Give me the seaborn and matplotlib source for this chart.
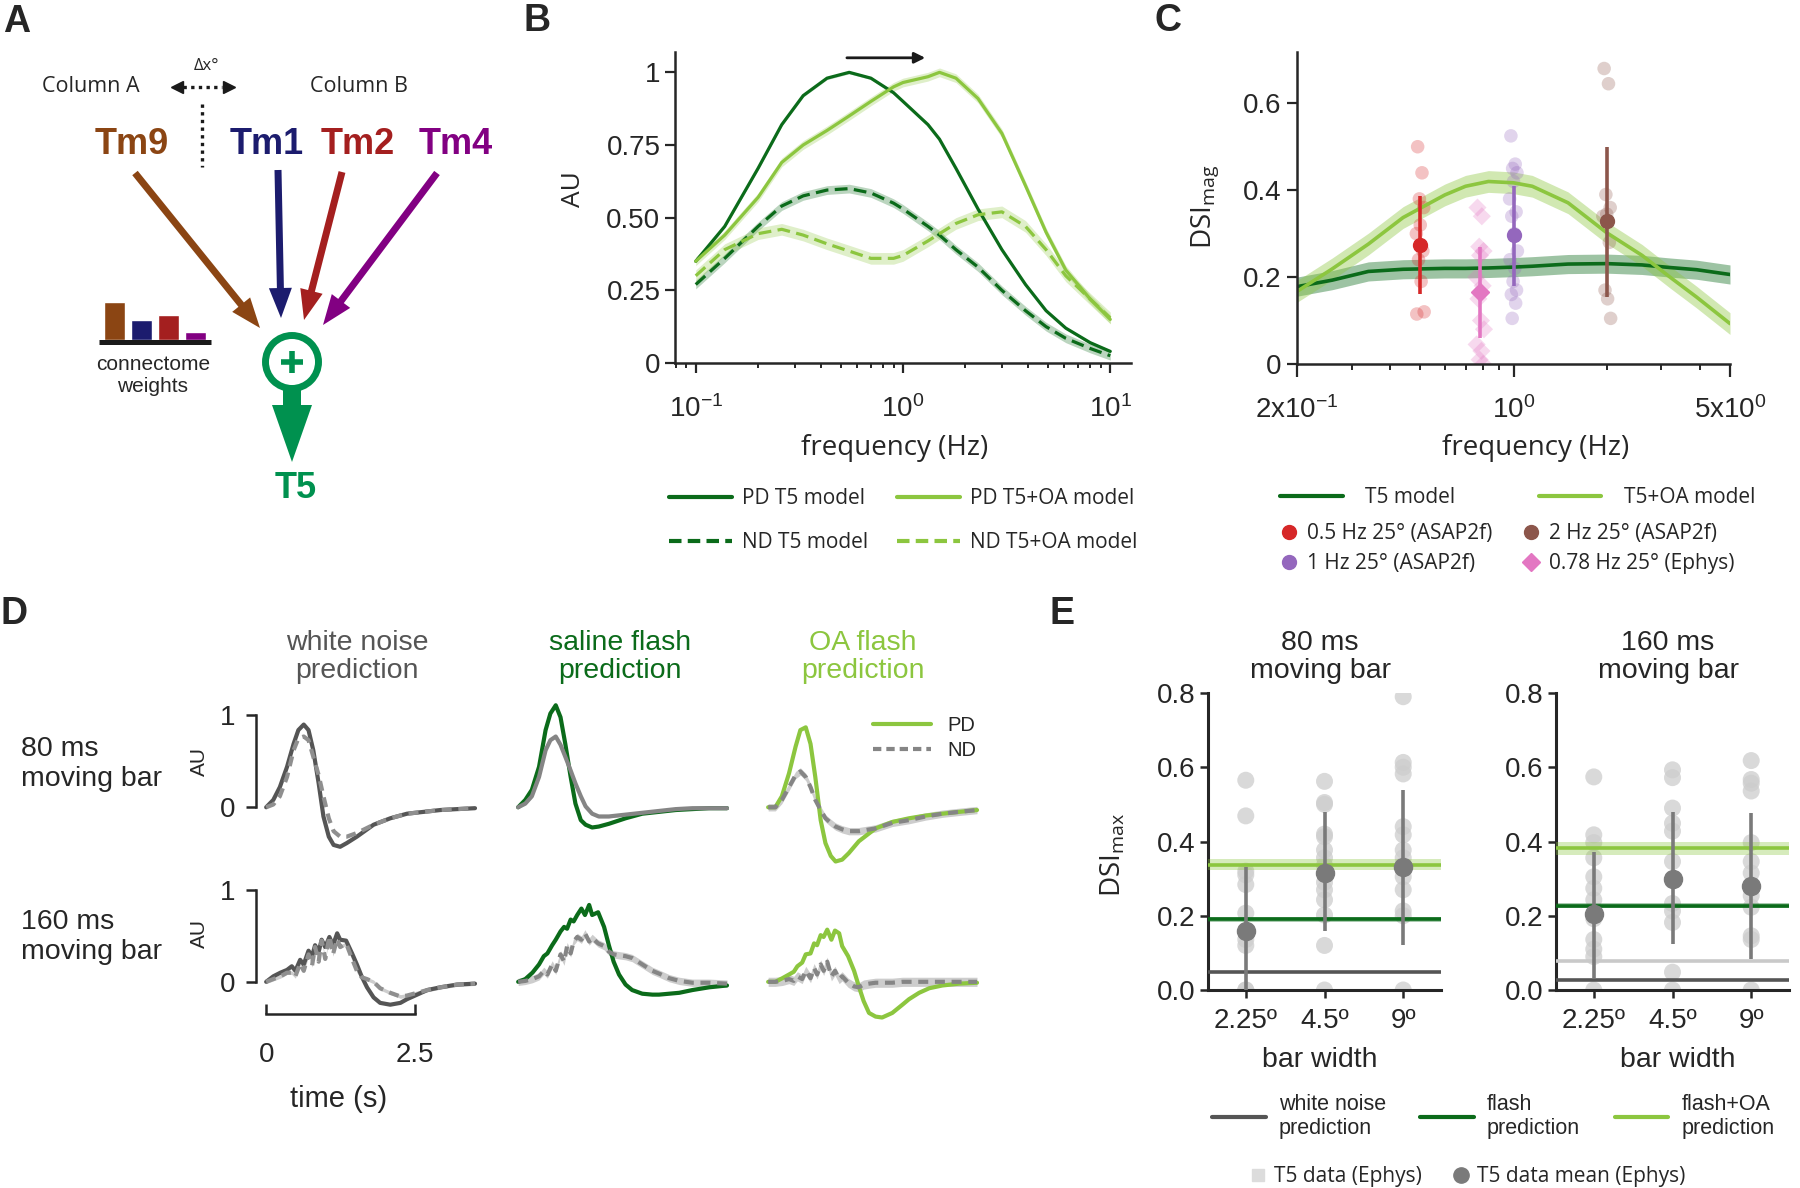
import numpy as np
import matplotlib
matplotlib.use("Agg")
import matplotlib.pyplot as plt
import seaborn as sns
from matplotlib.patches import FancyArrow, Circle
from matplotlib.lines import Line2D
from matplotlib.ticker import NullFormatter, LogLocator

sns.set_theme(style="ticks")
plt.rcParams['font.family'] = ['Liberation Sans', 'DejaVu Sans']
plt.rcParams['mathtext.fontset'] = 'custom'
plt.rcParams['mathtext.rm'] = 'Liberation Sans'
plt.rcParams['mathtext.it'] = 'Liberation Sans:italic'
plt.rcParams['axes.linewidth'] = 1.8
plt.rcParams['axes.facecolor'] = 'none'
HUM = ['Open Sans', 'DejaVu Sans']

# colours
DKG = '#0b6b1a'
LTG = '#8cc63f'
T5G = '#00914f'
WN_GRAY = '#555555'
ND_GRAY = '#858585'

# ---------------- data ----------------
# A: connectome weights
tm_names = ['Tm9', 'Tm1', 'Tm2', 'Tm4']
tm_colors = ['#8b4513', '#1c1c6e', '#a41f1f', '#820082']
conn_weights = [1.0, 0.52, 0.65, 0.22]

# B: frequency tuning of the model
freq_b = [0.1, 0.138, 0.2, 0.26, 0.33, 0.43, 0.55, 0.7, 0.9, 1.0,
          1.32, 1.5, 1.8, 2.3, 3.0, 3.9, 4.9, 6.1, 8.0, 10.0]
pd_t5 = [0.35, 0.47, 0.67, 0.82, 0.92, 0.98, 1.0, 0.98, 0.93, 0.90,
         0.82, 0.77, 0.67, 0.53, 0.39, 0.27, 0.18, 0.12, 0.07, 0.04]
pd_oa = [0.35, 0.44, 0.57, 0.69, 0.75, 0.80, 0.85, 0.90, 0.95, 0.965,
         0.985, 1.0, 0.98, 0.91, 0.79, 0.61, 0.45, 0.32, 0.22, 0.15]
nd_t5 = [0.27, 0.36, 0.47, 0.54, 0.575, 0.595, 0.60, 0.585, 0.55, 0.53,
         0.47, 0.44, 0.39, 0.33, 0.25, 0.18, 0.125, 0.085, 0.05, 0.025]
nd_oa = [0.30, 0.39, 0.445, 0.46, 0.44, 0.41, 0.385, 0.36, 0.36, 0.37,
         0.42, 0.445, 0.48, 0.51, 0.52, 0.47, 0.39, 0.30, 0.22, 0.155]
band_b = [0.005, 0.015, 0.015, 0.02]
arrow_freq = [0.52, 1.32]

# C: DSI vs frequency
c_freq = [0.2, 0.26, 0.34, 0.44, 0.6, 0.7, 0.83, 1.0, 1.15, 1.5, 2.0, 2.6, 3.2, 3.9, 5.0]
c_t5 = [0.178, 0.193, 0.213, 0.218, 0.22, 0.22, 0.221, 0.223, 0.225, 0.23,
        0.231, 0.228, 0.222, 0.217, 0.206]
c_oa = [0.167, 0.219, 0.276, 0.337, 0.389, 0.409, 0.42, 0.417, 0.409, 0.371,
        0.302, 0.25, 0.2, 0.154, 0.093]
band_c = [0.022, 0.025]
c_labels = ['0.5 Hz 25° (ASAP2f)', '1 Hz 25° (ASAP2f)', '2 Hz 25° (ASAP2f)', '0.78 Hz 25° (Ephys)']
c_stim_freq = [0.5, 1.0, 2.0, 0.78]
c_points = [
    [0.50, 0.44, 0.38, 0.36, 0.32, 0.30, 0.26, 0.24, 0.19, 0.12, 0.115],
    [0.525, 0.46, 0.45, 0.44, 0.42, 0.38, 0.35, 0.34, 0.30, 0.26, 0.24, 0.22, 0.19, 0.17, 0.16, 0.14, 0.105],
    [0.68, 0.645, 0.39, 0.36, 0.345, 0.34, 0.28, 0.17, 0.15, 0.105],
    [0.36, 0.34, 0.27, 0.26, 0.25, 0.2, 0.18, 0.15, 0.1, 0.08, 0.045, 0.03, 0.01, 0.0],
]
c_mean = [0.273, 0.297, 0.33, 0.165]
c_lo = [0.16, 0.18, 0.155, 0.06]
c_hi = [0.387, 0.41, 0.50, 0.27]
c_colors = ['#d62728', '#9467bd', '#8c564b', '#e377c2']
c_markers = ['o', 'o', 'o', 'D']
c_jitter = [-0.6, 0.4, -0.2, 0.8, 0.0, -0.9, 0.6, -0.4, 0.2, 0.9, -0.8, 0.3, -0.1, 0.7, -0.5, 0.5, -0.3]

# D: predicted responses to moving bars
t80 = [0, 0.12, 0.23, 0.35, 0.46, 0.54, 0.63, 0.71, 0.79, 0.88, 0.96, 1.05,
       1.13, 1.24, 1.35, 1.52, 1.8, 2.08, 2.36, 2.64, 2.92, 3.2, 3.5]
wn80_pd = [0, 0.08, 0.22, 0.44, 0.69, 0.84, 0.9, 0.84, 0.62, 0.26, -0.1, -0.32,
           -0.41, -0.43, -0.39, -0.32, -0.19, -0.12, -0.07, -0.05, -0.03, -0.02, -0.01]
wn80_nd = [0, 0.03, 0.12, 0.33, 0.62, 0.75, 0.77, 0.73, 0.55, 0.35, 0.12, -0.12,
           -0.26, -0.32, -0.32, -0.28, -0.19, -0.12, -0.07, -0.05, -0.03, -0.02, -0.01]
fl80_pd = [0, 0.08, 0.19, 0.44, 0.84, 1.02, 1.11, 0.98, 0.69, 0.33, 0.04, -0.14,
           -0.19, -0.22, -0.21, -0.18, -0.12, -0.07, -0.05, -0.03, -0.02, -0.01, -0.01]
fl80_nd = [0, 0.04, 0.12, 0.33, 0.62, 0.73, 0.77, 0.68, 0.55, 0.40, 0.26, 0.12,
           0.01, -0.07, -0.10, -0.10, -0.08, -0.06, -0.04, -0.02, -0.01, -0.01, -0.01]
oa80_pd = [0, 0.0, 0.12, 0.37, 0.66, 0.84, 0.87, 0.69, 0.33, -0.14, -0.39, -0.53,
           -0.59, -0.57, -0.50, -0.37, -0.23, -0.16, -0.12, -0.09, -0.07, -0.05, -0.03]
oa80_nd = [0, 0.0, 0.08, 0.22, 0.35, 0.39, 0.33, 0.22, 0.08, -0.03, -0.12, -0.17,
           -0.21, -0.24, -0.26, -0.26, -0.23, -0.17, -0.14, -0.10, -0.07, -0.05, -0.03]

t160 = [0, 0.12, 0.24, 0.35, 0.43, 0.49, 0.57, 0.63, 0.71, 0.77, 0.82, 0.88, 0.93,
        0.99, 1.06, 1.12, 1.19, 1.24, 1.34, 1.44, 1.52, 1.6, 1.69, 1.8, 1.91, 2.08,
        2.25, 2.36, 2.53, 2.7, 2.92, 3.2, 3.5]
wn160_pd = [0, 0.06, 0.1, 0.13, 0.17, 0.12, 0.24, 0.19, 0.34, 0.28, 0.40, 0.33, 0.46,
            0.38, 0.49, 0.40, 0.53, 0.46, 0.45, 0.31, 0.19, 0.06, -0.06, -0.17, -0.23, -0.25,
            -0.23, -0.19, -0.14, -0.09, -0.06, -0.03, -0.02]
wn160_nd = [0, 0.03, 0.06, 0.1, 0.1, 0.06, 0.2, 0.12, 0.3, 0.18, 0.38, 0.22, 0.45,
            0.25, 0.5, 0.3, 0.47, 0.38, 0.42, 0.25, 0.12, 0.05, 0.03, 0.0, -0.07, -0.12,
            -0.16, -0.15, -0.12, -0.09, -0.06, -0.03, -0.02]
fl160_pd = [0, 0.03, 0.1, 0.19, 0.28, 0.31, 0.4, 0.46, 0.55, 0.6, 0.58, 0.68, 0.66,
            0.73, 0.8, 0.73, 0.84, 0.73, 0.76, 0.6, 0.40, 0.22, 0.08, -0.03, -0.09, -0.13,
            -0.14, -0.14, -0.13, -0.12, -0.09, -0.06, -0.04]
fl160_nd = [0, 0.01, 0.03, 0.06, 0.12, 0.08, 0.19, 0.12, 0.3, 0.22, 0.39, 0.31, 0.44,
            0.49, 0.46, 0.53, 0.44, 0.48, 0.42, 0.39, 0.33, 0.3, 0.29, 0.28, 0.26, 0.19,
            0.12, 0.09, 0.04, 0.01, -0.01, -0.01, -0.02]
oa160_pd = [0, 0, 0.04, 0.08, 0.11, 0.17, 0.21, 0.3, 0.31, 0.42, 0.40, 0.51, 0.49,
            0.57, 0.46, 0.56, 0.53, 0.39, 0.28, 0.12, -0.05, -0.21, -0.34, -0.38, -0.39, -0.34,
            -0.25, -0.19, -0.12, -0.07, -0.04, -0.02, -0.01]
oa160_nd = [0, 0, 0.01, 0.03, 0.01, 0.06, 0.03, 0.12, 0.04, 0.15, 0.08, 0.19, 0.12,
            0.22, 0.06, 0.12, 0.03, 0.06, -0.01, -0.05, -0.06, -0.03, -0.02, -0.01, -0.01, -0.01,
            0, 0, 0, 0, 0, 0, 0]
d_titles = ['white noise\nprediction', 'saline flash\nprediction', 'OA flash\nprediction']
d_rows = ['80 ms\nmoving bar', '160 ms\nmoving bar']
nd_band = [[0.0, 0.015, 0.04], [0.02, 0.04, 0.05]]

# E: DSI for moving bars of different widths
bar_widths = ['2.25º', '4.5º', '9º']
e_pts_80 = [[0.565, 0.469, 0.32, 0.31, 0.284, 0.207, 0.136, 0.12, 0.0, 0.0],
            [0.562, 0.505, 0.5, 0.42, 0.413, 0.377, 0.356, 0.336, 0.29, 0.27, 0.243, 0.202, 0.12, 0.0],
            [0.79, 0.613, 0.6, 0.582, 0.44, 0.418, 0.377, 0.356, 0.336, 0.305, 0.27, 0.213, 0.2, 0.0]]
e_mean_80 = [0.159, 0.315, 0.33]
e_lo_80 = [0.0, 0.16, 0.122]
e_hi_80 = [0.33, 0.48, 0.54]
e_pts_160 = [[0.574, 0.418, 0.397, 0.356, 0.305, 0.274, 0.243, 0.192, 0.136, 0.11, 0.09, 0.0],
             [0.593, 0.572, 0.49, 0.449, 0.428, 0.346, 0.295, 0.233, 0.213, 0.182, 0.048, 0.0],
             [0.618, 0.567, 0.557, 0.536, 0.397, 0.346, 0.315, 0.254, 0.223, 0.146, 0.136, 0.0]]
e_mean_160 = [0.204, 0.30, 0.28]
e_lo_160 = [0.033, 0.125, 0.084]
e_hi_160 = [0.372, 0.48, 0.477]
e_pred_80 = [0.048, 0.19, 0.338]     # white noise, flash, flash+OA
e_pred_160 = [0.026, 0.227, 0.382]
e_extra_160 = 0.077
e_band_80 = [0.0, 0.006, 0.015]
e_band_160 = [0.0, 0.006, 0.018]

# ---------------- figure ----------------
W, H = 1800, 1188
fig = plt.figure(figsize=(W / 100, H / 100), dpi=100)


def px_axes(l, t, r, b):
    return fig.add_axes([l / W, 1 - b / H, (r - l) / W, (b - t) / H])


def ftext(x, y, s, **kw):
    kw.setdefault('ha', 'center')
    kw.setdefault('va', 'center')
    return fig.text(x / W, 1 - y / H, s, **kw)


def fpos(x, y):
    return (x / W, 1 - y / H)


for lab, (x, y) in zip('ABCDE', [(17, 22), (537, 21), (1168, 21), (14, 614), (1062, 614)]):
    ftext(x, y, lab, fontsize=27, weight='bold')

# ---- A: circuit diagram ----
axA = px_axes(0, 0, 520, 520)
axA.set_xlim(0, 520)
axA.set_ylim(520, 0)
axA.axis('off')
ftext(91, 87, 'Column A', fontsize=15.5, family=HUM)
ftext(359, 87, 'Column B', fontsize=15.5, family=HUM)
ftext(207, 66, 'Δx°', fontsize=12, family=HUM)
axA.plot([183, 222], [87, 87], color='k', lw=2.4, ls=(0, (1, 1.3)))
axA.plot([177], [87], marker='<', ms=8, color='k')
axA.plot([229], [87], marker='>', ms=8, color='k')
axA.plot([202, 202], [104, 167], color='k', lw=2.4, ls=(0, (1, 1.3)))
tm_x = [132, 267, 358, 456]
tm_arrows = [((135, 173), (260, 328)), ((278, 170), (281, 318)),
             ((342, 172), (304, 320)), ((437, 173), (323, 325))]
for name, c, x, ((x0, y0), (x1, y1)) in zip(tm_names, tm_colors, tm_x, tm_arrows):
    ftext(x, 144, name, fontsize=26, weight='bold', color=c)
    axA.add_patch(FancyArrow(x0, y0, x1 - x0, y1 - y0, width=7, head_width=23,
                             head_length=30, length_includes_head=True, color=c, lw=0))
axA.add_patch(Circle((292, 362), 26.5, fill=False, ec=T5G, lw=5))
axA.plot([281, 303], [362, 362], color=T5G, lw=4, solid_capstyle='butt')
axA.plot([292, 292], [351, 373], color=T5G, lw=4, solid_capstyle='butt')
axA.add_patch(FancyArrow(292, 388, 0, 74, width=18, head_width=40, head_length=57,
                         length_includes_head=True, color=T5G, lw=0))
ftext(296, 489, 'T5', fontsize=26, weight='bold', color=T5G)
axA.plot([99, 211], [342, 342], color='k', lw=3.6, solid_capstyle='butt')
ftext(153, 364, 'connectome', fontsize=15)
ftext(153, 386, 'weights', fontsize=15)
axW = px_axes(101, 301, 209, 340)
sns.barplot(x=tm_names, y=conn_weights, hue=tm_names, palette=tm_colors,
            legend=False, width=0.78, ax=axW, saturation=1)
axW.set_xlim(-0.5, 3.5)
axW.set_ylim(0, 1.03)
axW.axis('off')

# ---- B: frequency tuning ----
axB = px_axes(675, 52, 1131, 363)
axB.set_xscale('log')
b_series = [(pd_t5, DKG, '-'), (pd_oa, LTG, '-'), (nd_t5, DKG, (0, (4, 2))), (nd_oa, LTG, (0, (4, 2)))]
for (y, c, ls), bw in zip(b_series, band_b):
    y = np.asarray(y)
    axB.fill_between(freq_b, y - bw, y + bw, color=c, alpha=0.28, lw=0)
    sns.lineplot(x=freq_b, y=y, ax=axB, color=c, linewidth=2.3, linestyle=ls, sort=False)
axB.set_xlim(10 ** -1.1, 10 ** 1.1)
axB.set_ylim(0, 1.07)
axB.set_yticks([0, 0.25, 0.5, 0.75, 1])
axB.set_yticklabels(['0', '0.25', '0.50', '0.75', '1'])
axB.xaxis.set_minor_locator(LogLocator(subs=np.arange(2, 10)))
axB.xaxis.set_minor_formatter(NullFormatter())
axB.tick_params(which='major', length=7, width=1.6, labelsize=20)
axB.tick_params(axis='x', which='major', pad=16)
axB.tick_params(which='minor', length=3.5, width=1.4)
axB.spines[['top', 'right']].set_visible(False)
axB.annotate('', xy=(arrow_freq[1], 1.05), xytext=(arrow_freq[0], 1.05),
             arrowprops=dict(arrowstyle='-|>', color='k', lw=2, mutation_scale=16),
             annotation_clip=False)
ftext(574, 189, 'AU', fontsize=19, rotation=90, family=HUM)
ftext(895, 448, 'frequency (Hz)', fontsize=20, family=HUM)
b_handles = [Line2D([], [], color=DKG, lw=3), Line2D([], [], color=DKG, lw=3, ls=(0, (3, 1.5))),
             Line2D([], [], color=LTG, lw=3), Line2D([], [], color=LTG, lw=3, ls=(0, (3, 1.5)))]
fig.legend(b_handles, ['PD T5 model', 'ND T5 model', 'PD T5+OA model', 'ND T5+OA model'],
           loc='upper left', bbox_to_anchor=fpos(669, 488), ncol=2, frameon=False,
           borderpad=0, borderaxespad=0, handlelength=3.0, handletextpad=0.5,
           columnspacing=1.4, labelspacing=1.1, prop={'family': HUM, 'size': 15})

# ---- C: DSI vs frequency ----
axC = px_axes(1297, 52, 1730, 364)
axC.set_xscale('log')
for y, c, bw in zip([c_t5, c_oa], [DKG, LTG], band_c):
    y = np.asarray(y)
    axC.fill_between(c_freq, y - bw, y + bw, color=c, alpha=0.4, lw=0)
    sns.lineplot(x=c_freq, y=y, ax=axC, color=c, linewidth=2.6, sort=False)
for f, pts, c, m in zip(c_stim_freq, c_points, c_colors, c_markers):
    xs = [f * 10 ** (0.014 * j) for j in c_jitter[:len(pts)]]
    sns.scatterplot(x=xs, y=pts, ax=axC, color=c, marker=m, s=95 if m == 'o' else 85,
                    alpha=0.28, edgecolor='none', legend=False)
for f, mu, lo, hi, c, m in zip(c_stim_freq, c_mean, c_lo, c_hi, c_colors, c_markers):
    axC.errorbar([f], [mu], yerr=[[mu - lo], [hi - mu]], fmt=m, color=c,
                 ms=10 if m == 'o' else 9.5, elinewidth=2.6, capsize=0, zorder=6)
axC.set_xlim(0.2, 5)
axC.set_ylim(0, 0.718)
axC.set_xticks([0.2, 1, 5])
axC.set_xticklabels([r'$\mathregular{2x10^{-1}}$', r'$\mathregular{10^{0}}$', r'$\mathregular{5x10^{0}}$'])
axC.xaxis.set_minor_locator(LogLocator(subs=np.arange(2, 10)))
axC.xaxis.set_minor_formatter(NullFormatter())
axC.set_yticks([0, 0.2, 0.4, 0.6])
axC.set_yticklabels(['0', '0.2', '0.4', '0.6'])
axC.tick_params(which='major', length=7, width=1.6, labelsize=20)
axC.tick_params(axis='x', which='major', length=9, pad=14)
axC.tick_params(axis='y', pad=4)
axC.tick_params(which='minor', length=4.5, width=1.4)
axC.spines[['top', 'right']].set_visible(False)
ftext(1205, 207, r'DSI$_\mathregular{mag}$', fontsize=20, rotation=90, family=HUM)
ftext(1536, 448, 'frequency (Hz)', fontsize=20, family=HUM)
fig.legend([Line2D([], [], color=DKG, lw=3), Line2D([], [], color=LTG, lw=3)],
           ['T5 model', 'T5+OA model'], loc='upper left', bbox_to_anchor=fpos(1280, 487),
           ncol=2, frameon=False, borderpad=0, borderaxespad=0, handlelength=3.0,
           handletextpad=1.1, columnspacing=4.0, prop={'family': HUM, 'size': 15})
mk_handles = [Line2D([], [], color=c, marker=m, ls='none', ms=10 if m == 'o' else 9)
              for c, m in zip(c_colors, c_markers)]
fig.legend(mk_handles, c_labels,
           loc='upper left', bbox_to_anchor=fpos(1279, 523), ncol=2, frameon=False,
           borderpad=0, borderaxespad=0, handlelength=1.0, handletextpad=0.35,
           columnspacing=1.35, labelspacing=0.45, prop={'family': HUM, 'size': 15})

# ---- D: predicted traces ----
d_data = [
    [(wn80_pd, wn80_nd, WN_GRAY), (fl80_pd, fl80_nd, DKG), (oa80_pd, oa80_nd, LTG)],
    [(wn160_pd, wn160_nd, WN_GRAY), (fl160_pd, fl160_nd, DKG), (oa160_pd, oa160_nd, LTG)],
]
d_time = [t80, t160]
row_px = [(697, 867, -0.65), (872, 1023, -0.45)]
col_px = [256, 508, 758]
for r in range(2):
    top, bot, ymin = row_px[r]
    for ci in range(3):
        ax = px_axes(col_px[ci], top, col_px[ci] + 222, bot)
        pd_y, nd_y, c = d_data[r][ci]
        t = d_time[r]
        nd = np.asarray(nd_y)
        if nd_band[r][ci] > 0:
            ax.fill_between(t, nd - nd_band[r][ci], nd + nd_band[r][ci], color='#c8c8c8', lw=0, alpha=0.9)
        nd_ls = '-' if (r == 0 and ci == 1) else (0, (2.4, 1.6))
        nd_col = '#8f8f8f' if ci == 0 else ND_GRAY
        sns.lineplot(x=t, y=pd_y, ax=ax, color=c, linewidth=3, sort=False)
        sns.lineplot(x=t, y=nd_y, ax=ax, color=nd_col, linewidth=3, linestyle=nd_ls, sort=False)
        ax.set_xlim(-0.17, 3.55)
        ax.set_ylim(ymin, 1.2)
        ax.spines[['top', 'right', 'bottom', 'left']].set_visible(False)
        ax.set_xticks([])
        ax.set_yticks([])
        if ci == 0:
            ax.spines['left'].set_visible(True)
            ax.spines['left'].set_bounds(0, 1)
            ax.set_yticks([0, 1])
            ax.set_yticklabels(['0', '1'])
            ax.tick_params(axis='y', length=7, width=1.8, labelsize=20, pad=8)
        if ci == 0 and r == 1:
            ax.spines['bottom'].set_visible(True)
            ax.spines['bottom'].set_position(('data', -0.35))
            ax.spines['bottom'].set_bounds(0, 2.5)
            ax.set_xticks([0, 2.5])
            ax.set_xticklabels(['0', '2.5'])
            ax.tick_params(axis='x', direction='in', length=7, width=1.8, labelsize=20, pad=20)
        if ci == 2 and r == 0:
            ax.legend([Line2D([], [], color=LTG, lw=3), Line2D([], [], color=ND_GRAY, lw=3, ls=(0, (2, 1.2)))],
                      ['PD', 'ND'], loc='upper left', bbox_to_anchor=fpos(873, 716),
                      bbox_transform=fig.transFigure, frameon=False, borderpad=0, borderaxespad=0,
                      handlelength=2.9, handletextpad=0.8, labelspacing=0.3, fontsize=14.5)
    ftext(199, 761 if r == 0 else 933, 'AU', fontsize=15, rotation=90)
    ftext(21, 764 if r == 0 else 937, d_rows[r], fontsize=20.5, ha='left', linespacing=1.2)
for x, s, c in zip([357, 620, 863], d_titles, [WN_GRAY, DKG, LTG]):
    ftext(x, 657, s, fontsize=20.5, color=c, linespacing=1.15)
ftext(339, 1099, 'time (s)', fontsize=21)

# ---- E: DSI for moving bars ----
e_sets = [
    (1208, e_pts_80, e_mean_80, e_lo_80, e_hi_80, e_pred_80, e_band_80, '80 ms\nmoving bar', 1320, 1320),
    (1556, e_pts_160, e_mean_160, e_lo_160, e_hi_160, e_pred_160, e_band_160, '160 ms\nmoving bar', 1668, 1678),
]
pred_cols = [WN_GRAY, DKG, LTG]
for k, (left, pts, mu, lo, hi, pred, bands, title, tx, lx) in enumerate(e_sets):
    ax = px_axes(left, 693, left + 233, 990)
    for i, p in enumerate(pts):
        sns.scatterplot(x=[i] * len(p), y=p, ax=ax, color='#cdcdcd', s=150, alpha=0.75,
                        edgecolor='none', legend=False, zorder=2)
    if k == 1:
        ax.axhline(e_extra_160, color='#c9c9c9', lw=2.6, zorder=3)
    for val, c, bw in zip(pred, pred_cols, bands):
        if bw > 0:
            ax.axhspan(val - bw, val + bw, color=c, alpha=0.35, lw=0, zorder=3)
        ax.axhline(val, color=c, lw=2.6, zorder=3)
    mu_a = np.asarray(mu)
    ax.errorbar(range(3), mu, yerr=[mu_a - np.asarray(lo), np.asarray(hi) - mu_a], fmt='o',
                color='#7a7a7a', ms=13, elinewidth=2.6, capsize=0, zorder=5)
    ax.set_xlim(-0.48, 2.48)
    ax.set_ylim(0, 0.8)
    ax.set_xticks(range(3))
    ax.set_xticklabels(bar_widths)
    ax.set_yticks([0, 0.2, 0.4, 0.6, 0.8])
    ax.set_yticklabels(['0.0', '0.2', '0.4', '0.6', '0.8'])
    ax.tick_params(length=6, width=1.8, labelsize=20, pad=3)
    ax.tick_params(axis='x', pad=7)
    ax.spines[['top', 'right']].set_visible(False)
    ax.spines[['left', 'bottom']].set_linewidth(2.2)
    ftext(tx, 657, title, fontsize=20.5, linespacing=1.15)
    ftext(lx, 1060, 'bar width', fontsize=20.5)
ftext(1113, 855, r'DSI$_\mathregular{max}$', fontsize=20, rotation=90, family=HUM)
fig.legend([Line2D([], [], color=c, lw=3) for c in pred_cols],
           ['white noise\nprediction', 'flash\nprediction', 'flash+OA\nprediction'],
           loc='upper left', bbox_to_anchor=fpos(1212, 1094), ncol=3, frameon=False,
           borderpad=0, borderaxespad=0, handlelength=2.5, handletextpad=0.6,
           columnspacing=1.6, fontsize=15.5)
fig.legend([Line2D([], [], color='#dcdcdc', marker='s', ls='none', ms=9),
            Line2D([], [], color='#7a7a7a', marker='o', ls='none', ms=11)],
           ['T5 data (Ephys)', 'T5 data mean (Ephys)'], loc='upper left',
           bbox_to_anchor=fpos(1250, 1166), ncol=2, frameon=False, borderpad=0,
           borderaxespad=0, handlelength=0.8, handletextpad=0.35, columnspacing=1.5,
           prop={'family': HUM, 'size': 15})

fig.savefig('out.png', dpi=100)
